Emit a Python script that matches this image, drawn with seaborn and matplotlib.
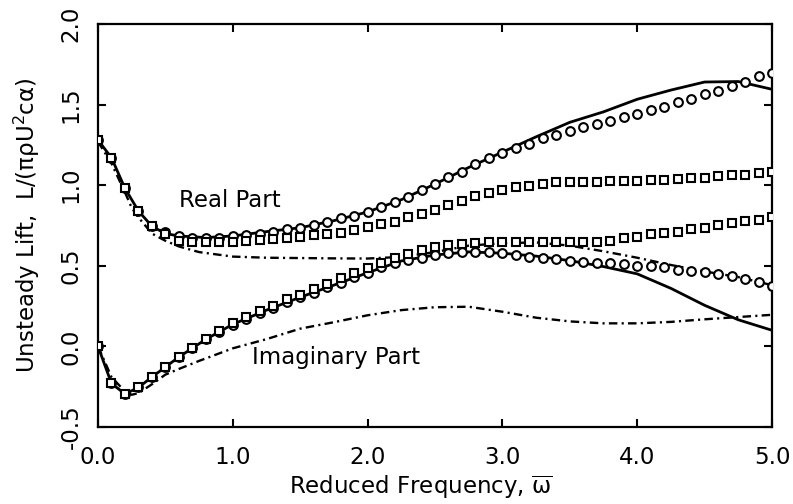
import numpy as np
import matplotlib
matplotlib.use("Agg")
import matplotlib.pyplot as plt
import seaborn as sns

# Reduced frequency grid for the sampled (marker) series
omega = np.round(np.arange(0.0, 5.0001, 0.1), 1)

# Circle markers
real_circles = [1.28, 1.17, 0.98, 0.84, 0.745, 0.708, 0.685, 0.675, 0.672, 0.675,
                0.682, 0.69, 0.70, 0.712, 0.726, 0.736, 0.75, 0.77, 0.794, 0.809,
                0.834, 0.863, 0.896, 0.925, 0.97, 1.007, 1.048, 1.084, 1.13, 1.17,
                1.198, 1.229, 1.256, 1.29, 1.31, 1.338, 1.36, 1.38, 1.40, 1.42,
                1.44, 1.467, 1.487, 1.514, 1.535, 1.566, 1.586, 1.615, 1.642, 1.677,
                1.694]
imag_circles = [0.0, -0.23, -0.295, -0.255, -0.19, -0.128, -0.066, -0.008, 0.044, 0.091,
                0.135, 0.17, 0.208, 0.236, 0.277, 0.305, 0.333, 0.367, 0.395, 0.428,
                0.457, 0.494, 0.515, 0.536, 0.547, 0.567, 0.578, 0.585, 0.588, 0.583,
                0.578, 0.567, 0.556, 0.55, 0.54, 0.532, 0.525, 0.52, 0.515, 0.508,
                0.50, 0.497, 0.49, 0.476, 0.47, 0.46, 0.45, 0.437, 0.416, 0.40,
                0.377]

# Square markers
real_squares = [1.28, 1.17, 0.98, 0.84, 0.745, 0.70, 0.655, 0.648, 0.645, 0.645,
                0.65, 0.656, 0.662, 0.664, 0.67, 0.68, 0.69, 0.697, 0.705, 0.722,
                0.739, 0.76, 0.774, 0.80, 0.82, 0.846, 0.877, 0.90, 0.93, 0.953,
                0.97, 0.99, 0.997, 1.005, 1.018, 1.02, 1.022, 1.022, 1.025, 1.028,
                1.028, 1.032, 1.032, 1.036, 1.045, 1.047, 1.057, 1.063, 1.065, 1.074,
                1.082]
imag_squares = [0.0, -0.23, -0.295, -0.255, -0.19, -0.128, -0.066, -0.008, 0.044, 0.093,
                0.142, 0.18, 0.22, 0.252, 0.292, 0.319, 0.355, 0.39, 0.425, 0.457,
                0.484, 0.52, 0.55, 0.575, 0.595, 0.614, 0.628, 0.635, 0.643, 0.645,
                0.645, 0.645, 0.645, 0.645, 0.645, 0.645, 0.645, 0.65, 0.656, 0.67,
                0.68, 0.695, 0.705, 0.712, 0.726, 0.736, 0.753, 0.764, 0.778, 0.784,
                0.80]

# Solid curves
solid_x = [0.0, 0.1, 0.2, 0.3, 0.4, 0.5, 0.6, 0.8, 1.0, 1.25, 1.5, 1.75, 2.0,
           2.25, 2.5, 2.75, 3.0, 3.25, 3.5, 3.75, 4.0, 4.25, 4.5, 4.75, 5.0]
real_solid = [1.28, 1.17, 0.98, 0.84, 0.745, 0.70, 0.685, 0.675, 0.685, 0.712,
              0.736, 0.78, 0.834, 0.91, 1.007, 1.11, 1.205, 1.30, 1.39, 1.455,
              1.533, 1.59, 1.64, 1.643, 1.595]
imag_solid = [0.0, -0.23, -0.295, -0.255, -0.19, -0.128, -0.066, 0.044, 0.137, 0.225,
              0.305, 0.38, 0.457, 0.53, 0.567, 0.586, 0.578, 0.56, 0.532, 0.495,
              0.45, 0.36, 0.255, 0.165, 0.10]

# Dash-dot curves
dd_x = [0.0, 0.1, 0.2, 0.25, 0.3, 0.4, 0.5, 0.6, 0.75, 1.0, 1.25, 1.5, 1.75, 2.0,
        2.25, 2.5, 2.75, 3.0, 3.25, 3.5, 3.75, 4.0, 4.25, 4.5, 4.75, 5.0]
real_dd = [1.27, 1.135, 0.955, 0.86, 0.80, 0.70, 0.655, 0.62, 0.585, 0.557,
           0.55, 0.548, 0.546, 0.545, 0.555, 0.585, 0.625, 0.64, 0.645, 0.625,
           0.59, 0.55, 0.505, 0.465, 0.43, 0.38]
imag_dd = [0.0, -0.19, -0.28, -0.30, -0.29, -0.235, -0.175, -0.14, -0.09, -0.012,
           0.045, 0.11, 0.15, 0.193, 0.225, 0.243, 0.246, 0.215, 0.178, 0.155,
           0.143, 0.143, 0.152, 0.168, 0.182, 0.196]

x_ticks = [0.0, 1.0, 2.0, 3.0, 4.0, 5.0]
y_ticks = [-0.5, 0.0, 0.5, 1.0, 1.5, 2.0]

sns.set_style("ticks")
plt.rcParams["font.family"] = ["DejaVu Sans"]
plt.rcParams["axes.unicode_minus"] = False
plt.rcParams["mathtext.fontset"] = "dejavusans"
plt.rcParams["text.color"] = "black"
plt.rcParams["axes.labelcolor"] = "black"
plt.rcParams["xtick.color"] = "black"
plt.rcParams["ytick.color"] = "black"

fig = plt.figure(figsize=(7.93, 5.04), dpi=100)
ax = fig.add_axes([0.1236, 0.1528, 0.8499, 0.7996])

dashdot = (0, (3.6, 1.8, 0.9, 1.8))
for y in (real_dd, imag_dd):
    sns.lineplot(x=dd_x, y=y, ax=ax, color="black", lw=1.7, linestyle=dashdot,
                 estimator=None, sort=False, zorder=2)
for y in (real_solid, imag_solid):
    sns.lineplot(x=solid_x, y=y, ax=ax, color="black", lw=2.0,
                 estimator=None, sort=False, zorder=2)

marker_kw = dict(linestyle="", color="black", markerfacecolor="white",
                 markeredgecolor="black", markeredgewidth=1.5, markersize=6.3,
                 estimator=None, sort=False)
for y in (real_circles, imag_circles):
    sns.lineplot(x=omega, y=y, ax=ax, marker="o", zorder=3, **marker_kw)
for y in (real_squares, imag_squares):
    sns.lineplot(x=omega, y=y, ax=ax, marker="s", zorder=4, **marker_kw)

ax.set_xlim(0, 5)
ax.set_ylim(-0.5, 2.0)
ax.set_xticks(x_ticks)
ax.set_yticks(y_ticks)
ax.set_xticklabels([f"{v:.1f}" for v in x_ticks])
ax.set_yticklabels([f"{v:.1f}" for v in y_ticks])

for side in ax.spines.values():
    side.set_linewidth(1.6)
    side.set_color("black")
    side.set_visible(True)

ax.tick_params(direction="in", length=6, width=1.5, top=True, right=True,
               labelsize=16.5, colors="black")
ax.tick_params(axis="x", pad=14)
ax.tick_params(axis="y", pad=11, labelrotation=90)
for lbl in ax.get_yticklabels():
    lbl.set_va("center")

ax.set_xlabel(r"Reduced Frequency, $\overline{\mathrm{\omega}}$", fontsize=16.5)
ax.xaxis.set_label_coords(0.479, -0.115)
ax.set_ylabel(r"Unsteady Lift,  L/($\mathrm{\pi\rho}$U$^2$c$\mathrm{\alpha}$)",
              fontsize=16.5, labelpad=13)

ax.text(0.975, 0.905, "Real Part", ha="center", va="center", fontsize=16.5)
ax.text(1.766, -0.072, "Imaginary Part", ha="center", va="center", fontsize=16.5)

fig.savefig("out.png", dpi=100)
